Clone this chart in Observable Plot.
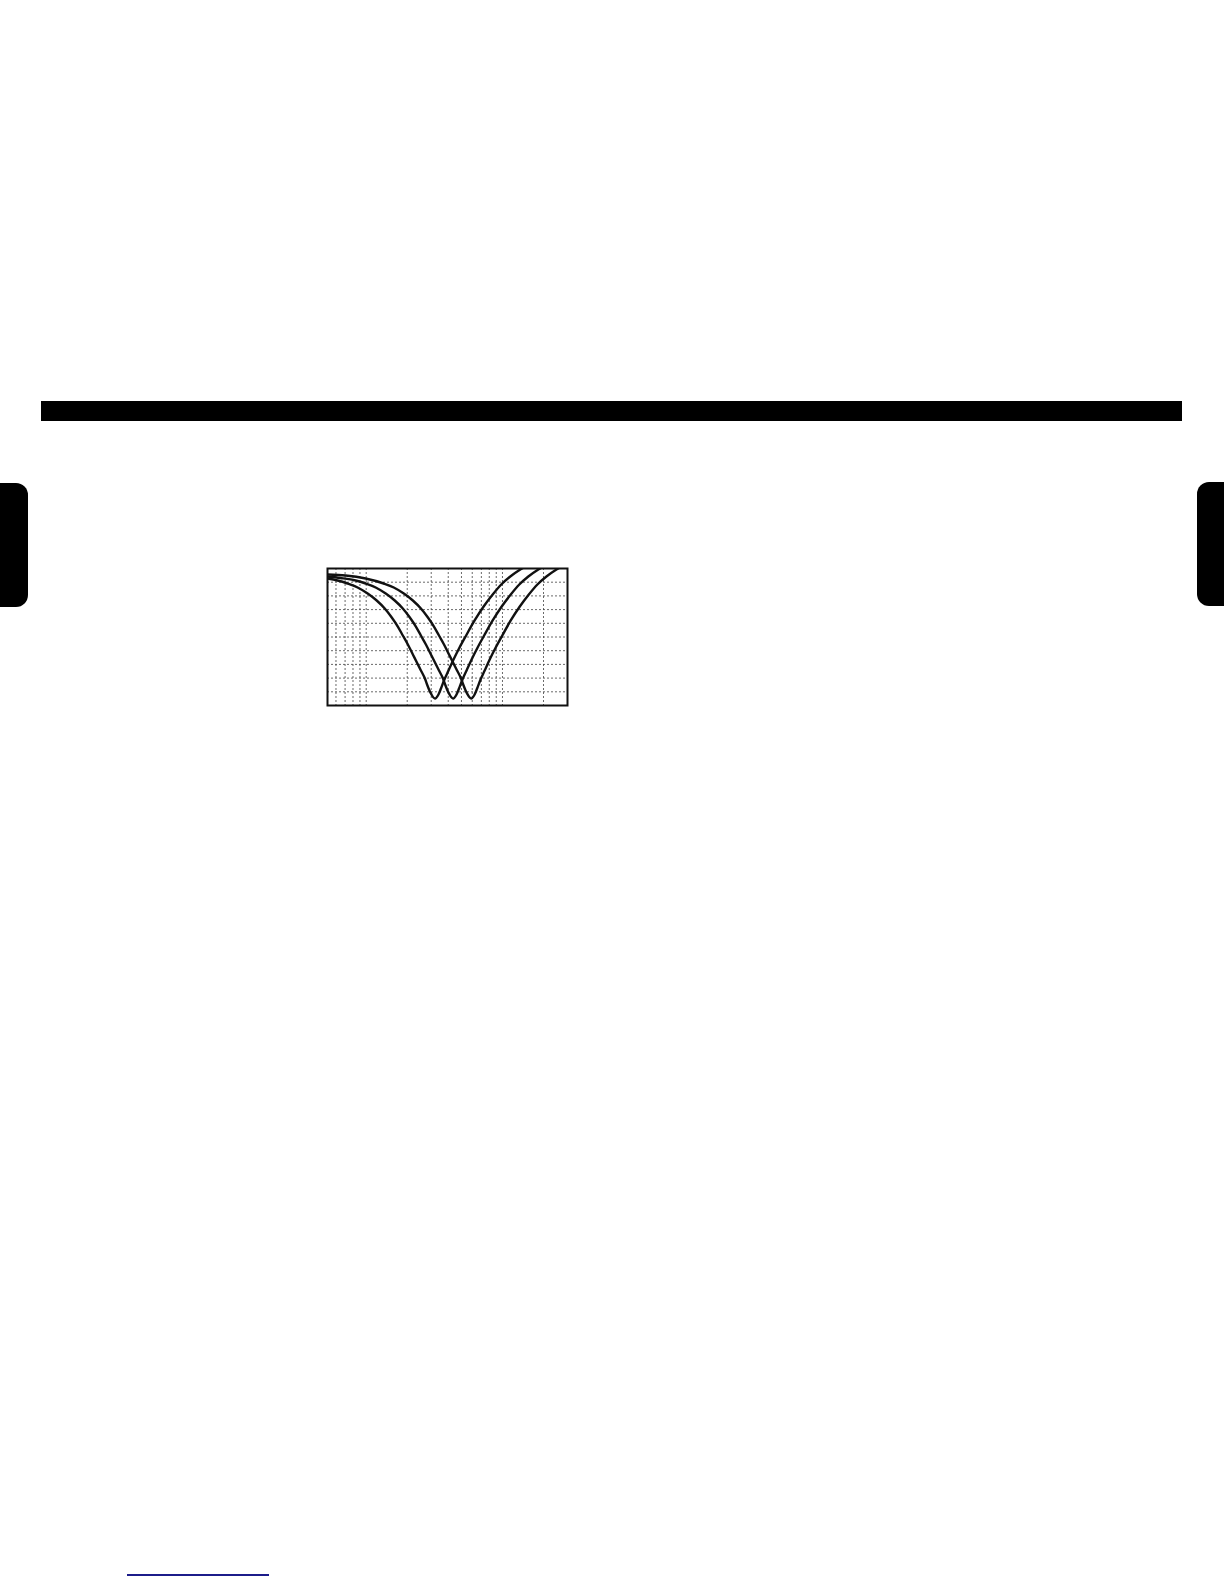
<!DOCTYPE html>
<html>
<head>
<meta charset="utf-8">
<script src="https://cdn.jsdelivr.net/npm/d3@7"></script>
<script src="https://cdn.jsdelivr.net/npm/@observablehq/plot@0.6"></script>
<style>
  html, body { margin: 0; padding: 0; background: #fff; }
  body { width: 1224px; height: 1584px; position: relative; overflow: hidden; font-family: "Liberation Sans", Arial, sans-serif; }
  .bar { position: absolute; left: 41px; top: 401px; width: 1141px; height: 20px; background: #000; }
  .tabL { position: absolute; left: 0; top: 483px; width: 28px; height: 124px; background: #000; border-radius: 0 12px 12px 0; }
  .tabR { position: absolute; left: 1197px; top: 482px; width: 27px; height: 124px; background: #000; border-radius: 12px 0 0 12px; }
  .blue { position: absolute; left: 127px; top: 1574px; width: 142px; height: 2px; background: #1c1c8a; }
  #chart { position: absolute; left: 325px; top: 566px; }
</style>
</head>
<body>
<div class="bar"></div>
<div class="tabL"></div>
<div class="tabR"></div>
<div class="blue"></div>
<div id="chart"></div>
<script>
// Frequency (Hz) and level (dB), one pair of arrays per curve
const freqA = [52, 61.6, 73.0, 86.5, 102.5, 119.4, 136.8, 154.0, 170.6, 185.6, 202.1, 220.0, 235.5, 252.0, 269.7, 281.4, 291.1, 301.1, 319.5, 339.1, 353.7, 372.2, 401.8, 437.4, 484.2, 541.0, 624.6, 727.4, 847.7, 979.3, 1141, 1351, 1471];
const levelA = [-1.46, -1.75, -2.19, -2.77, -3.65, -4.67, -5.84, -7.15, -8.47, -9.78, -11.09, -12.55, -13.72, -14.89, -16.06, -17.08, -17.81, -18.39, -18.98, -18.39, -17.52, -16.35, -14.89, -13.28, -11.53, -9.78, -7.59, -5.55, -3.80, -2.34, -1.17, -0.15, 0.29];

const freqB = [52, 64.8, 83.6, 99.1, 117.4, 139.1, 162.0, 185.6, 209.0, 231.5, 251.9, 274.2, 298.5, 319.6, 342.0, 366.0, 381.9, 395.0, 408.6, 433.6, 460.2, 480.0, 505.1, 545.2, 593.6, 657.1, 734.1, 847.6, 987.1, 1150, 1329, 1548, 1833, 1996];
const levelB = [-1.17, -1.39, -1.75, -2.19, -2.77, -3.65, -4.67, -5.84, -7.15, -8.47, -9.78, -11.09, -12.55, -13.72, -14.89, -16.06, -17.08, -17.81, -18.39, -18.98, -18.39, -17.52, -16.35, -14.89, -13.28, -11.53, -9.78, -7.59, -5.55, -3.80, -2.34, -1.17, -0.15, 0.29];

const freqC = [52, 70.6, 99.1, 134.5, 159.3, 188.8, 219.9, 252.0, 283.7, 314.2, 341.9, 372.3, 405.2, 433.8, 464.2, 496.8, 518.3, 536.2, 554.6, 588.5, 624.6, 651.5, 685.6, 740.1, 805.7, 891.9, 996.5, 1150, 1340, 1561, 1804, 2102, 2489, 2710];
const levelC = [-0.88, -1.02, -1.46, -2.19, -2.77, -3.65, -4.67, -5.84, -7.15, -8.47, -9.78, -11.09, -12.55, -13.72, -14.89, -16.06, -17.08, -17.81, -18.39, -18.98, -18.39, -17.52, -16.35, -14.89, -13.28, -11.53, -9.78, -7.59, -5.55, -3.80, -2.34, -1.17, -0.15, 0.29];

// Grid lines
const gridFreq = [60, 70, 80, 90, 100, 200, 300, 400, 500, 600, 700, 800, 900, 1000, 2000];
const gridLevel = [-2, -4, -6, -8, -10, -12, -14, -16, -18];
const freqDomain = [52, 3000];
const levelDomain = [-20, 0];

const curves = [["A", freqA, levelA], ["B", freqB, levelB], ["C", freqC, levelC]];
const data = curves.flatMap(([name, fs, ls]) => fs.map((f, i) => ({curve: name, f, v: ls[i]})));

const chart = Plot.plot({
  width: 244,
  height: 141,
  marginLeft: 2,
  marginRight: 2,
  marginTop: 2,
  marginBottom: 2,
  x: {type: "log", domain: freqDomain, axis: null},
  y: {domain: levelDomain, axis: null},
  marks: [
    Plot.ruleX(gridFreq, {stroke: "#444", strokeWidth: 0.8, strokeDasharray: "2,2"}),
    Plot.ruleY(gridLevel, {stroke: "#444", strokeWidth: 0.8, strokeDasharray: "2,2"}),
    Plot.line(data, {x: "f", y: "v", z: "curve", stroke: "#111", strokeWidth: 2.4, curve: "monotone-x", clip: true}),
    Plot.frame({stroke: "#111", strokeWidth: 2})
  ]
});
document.getElementById("chart").appendChild(chart);
</script>
</body>
</html>
